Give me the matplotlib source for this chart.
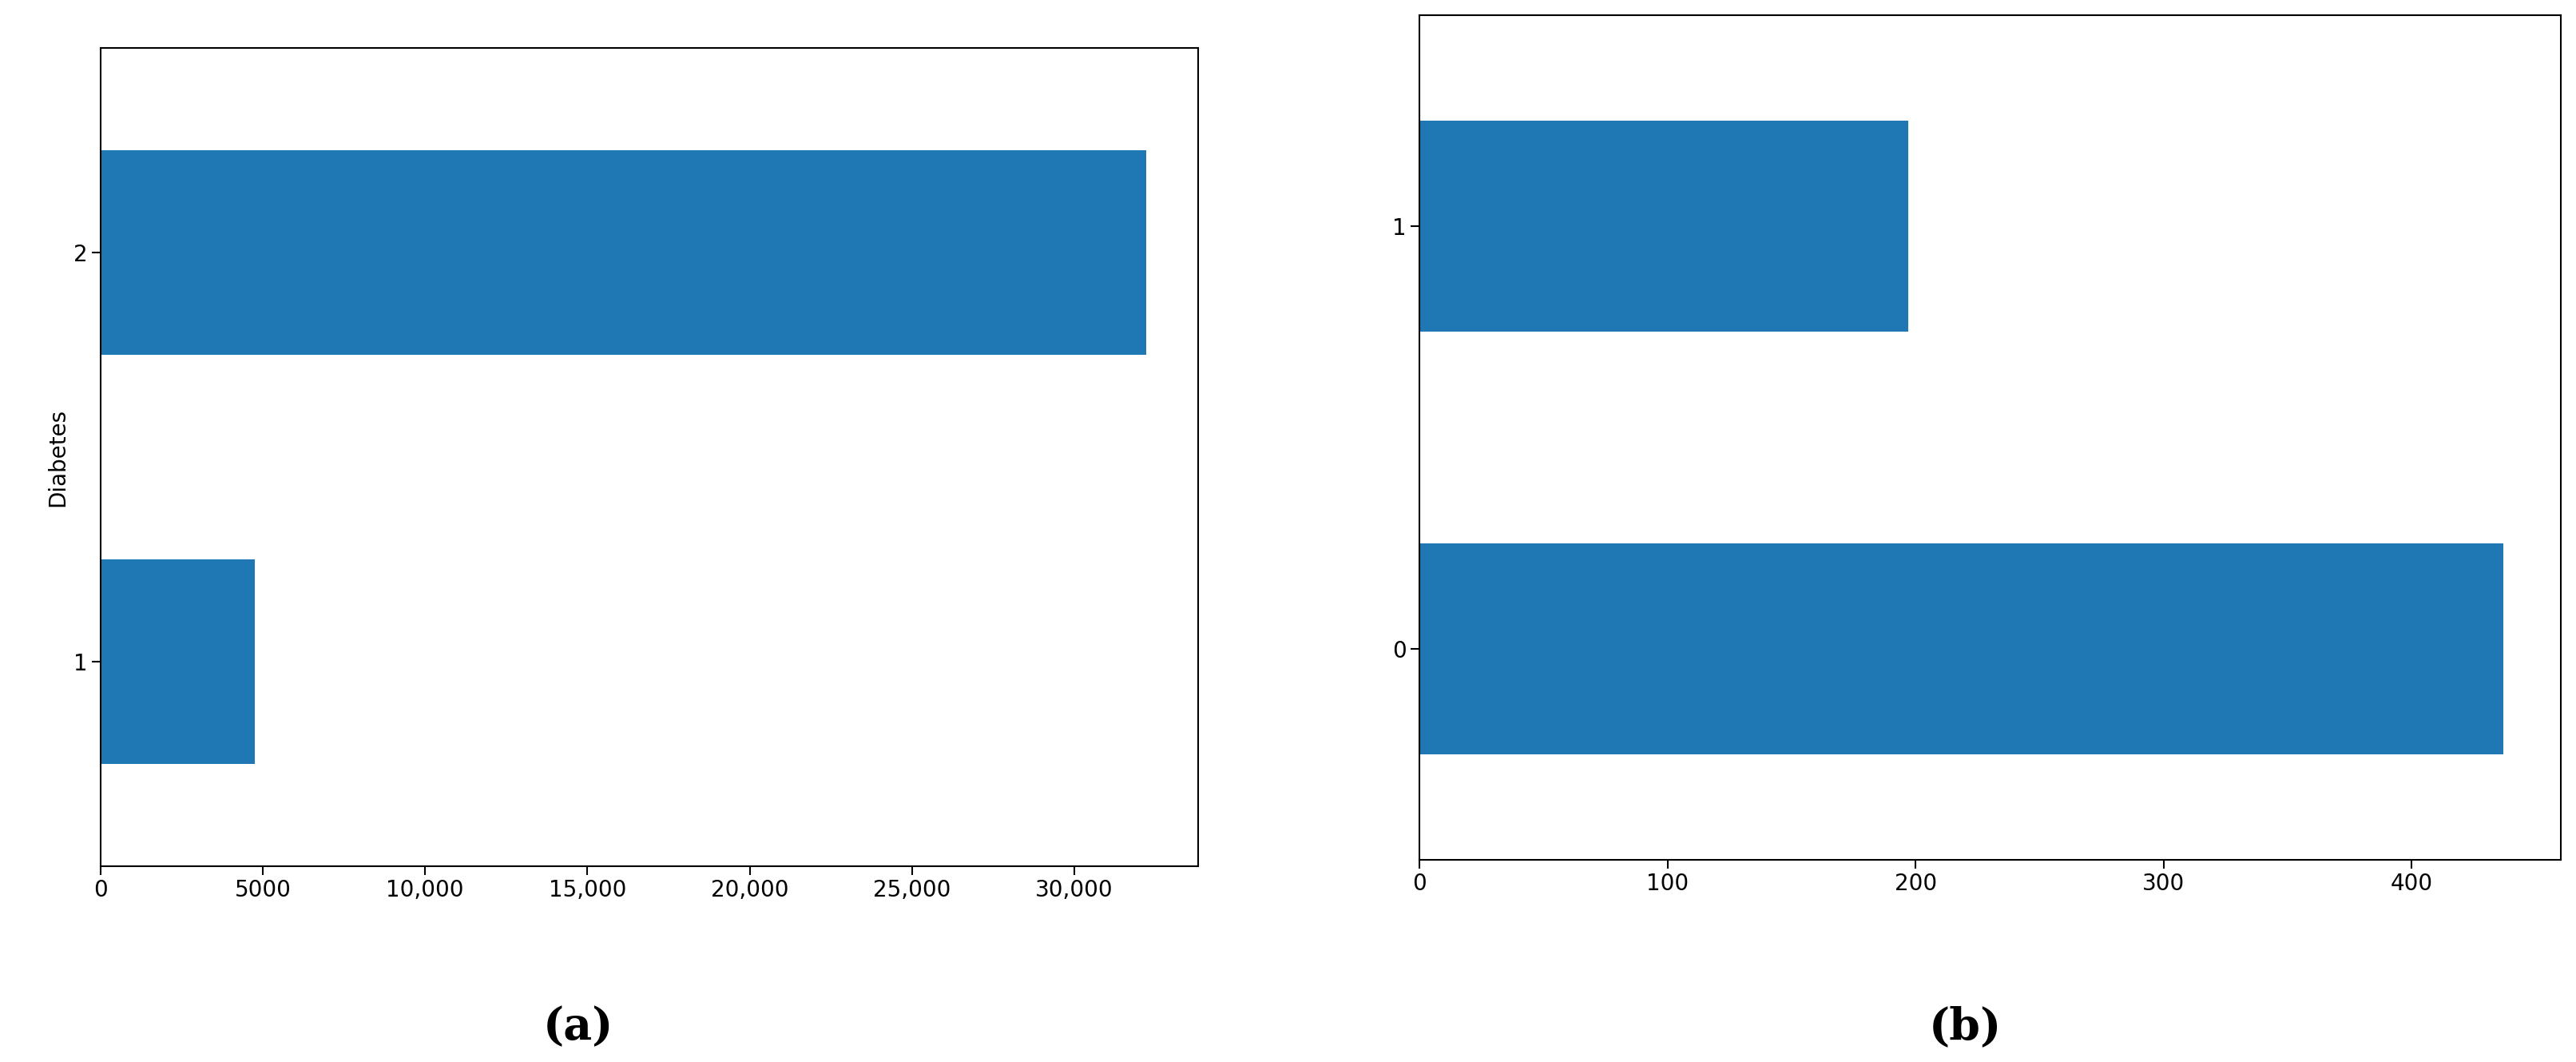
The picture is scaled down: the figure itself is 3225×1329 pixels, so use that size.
import matplotlib.pyplot as plt
from matplotlib.ticker import FuncFormatter

# left panel: Diabetes counts
left_labels = ["1", "2"]
left_values = [4750, 32200]
left_ticks = [0, 5000, 10000, 15000, 20000, 25000, 30000]

# right panel
right_labels = ["0", "1"]
right_values = [437, 197]
right_ticks = [0, 100, 200, 300, 400]

bar_color = "#1f77b4"

fig = plt.figure(figsize=(32.25, 13.29), dpi=100)
ax1 = fig.add_axes([0.039, 0.184, 0.426, 0.771])
ax2 = fig.add_axes([0.551, 0.190, 0.443, 0.796])

ax1.barh(range(len(left_values)), left_values, height=0.5, color=bar_color)
ax1.set_yticks(range(len(left_labels)))
ax1.set_yticklabels(left_labels)
ax1.set_ylim(-0.5, 1.5)
ax1.set_xlim(0, 33800)
ax1.set_xticks(left_ticks)
ax1.xaxis.set_major_formatter(FuncFormatter(
    lambda v, p: "{:,}".format(int(v)) if v >= 10000 else str(int(v))))
ax1.set_ylabel("Diabetes", fontsize=20)

ax2.barh(range(len(right_values)), right_values, height=0.5, color=bar_color)
ax2.set_yticks(range(len(right_labels)))
ax2.set_yticklabels(right_labels)
ax2.set_ylim(-0.5, 1.5)
ax2.set_xlim(0, 460)
ax2.set_xticks(right_ticks)

for ax in [ax1, ax2]:
    ax.tick_params(axis="both", labelsize=20, length=8, width=1.5)
    for s in ax.spines.values():
        s.set_linewidth(1.5)

fig.text(0.2245, 0.0325, "(a)", ha="center", va="center",
         fontsize=40, fontfamily="DejaVu Serif", fontweight="bold")
fig.text(0.763, 0.0325, "(b)", ha="center", va="center",
         fontsize=40, fontfamily="DejaVu Serif", fontweight="bold")

plt.savefig("out.png", dpi=100)
